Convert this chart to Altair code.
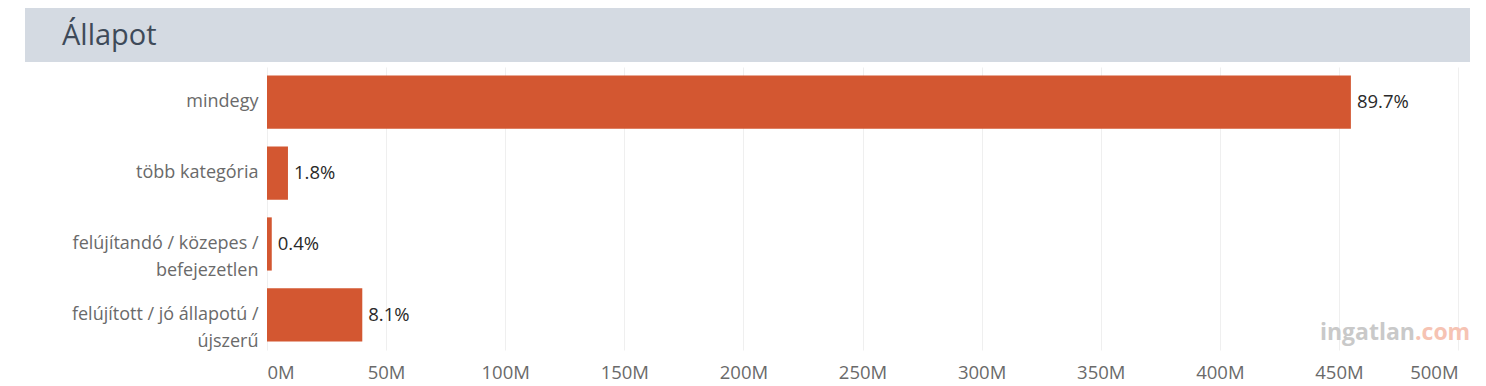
import altair as alt
import pandas as pd

categories = ["mindegy", "több kategória", "felújítandó / közepes /|befejezetlen", "felújított / jó állapotú /|újszerű"]
values_m = [455.0, 8.8, 2.0, 40.0]
pct_labels = ["89.7%", "1.8%", "0.4%", "8.1%"]
tick_values = [0, 50, 100, 150, 200, 250, 300, 350, 400, 450, 500]

df = pd.DataFrame({"cat": categories, "val": values_m, "pct": pct_labels})

W, H = 1203, 283
FONT = "Open Sans"

base = alt.Chart(df)

y_enc = alt.Y("cat:N", sort=categories, title=None,
              scale=alt.Scale(paddingInner=0.25, paddingOuter=0.12),
              axis=alt.Axis(labelExpr="split(datum.label, '|')", labelFontSize=18,
                            labelColor="#6a6a6a", labelFont=FONT, ticks=False, domain=False,
                            labelPadding=9, labelLineHeight=27, labelLimit=300))

x_enc = alt.X("val:Q", title=None,
              scale=alt.Scale(domain=[0, 505], nice=False, zero=True),
              axis=alt.Axis(values=tick_values, labelExpr="datum.value + 'M'",
                            labelFontSize=18.5, labelColor="#6a6a6a", labelFont=FONT,
                            ticks=False, domain=False, grid=True, gridColor="#efefef",
                            labelPadding=13, labelFlush=15))

bars = base.mark_bar(color="#d35731").encode(x=x_enc, y=y_enc)

texts = base.mark_text(align="left", baseline="middle", dx=6, fontSize=18.5,
                       color="#2a2a2a", font=FONT).encode(
    x="val:Q", y=alt.Y("cat:N", sort=categories), text="pct:N")

header_df = pd.DataFrame({"t": ["Állapot"]})
header_rect = alt.Chart(header_df).mark_rect(color="#d4dae2").encode(
    x=alt.value(-242), x2=alt.value(W), y=alt.value(-59), y2=alt.value(-5))
header_text = alt.Chart(header_df).mark_text(align="left", baseline="middle", fontSize=29,
                                             color="#3e4a59", font=FONT).encode(
    x=alt.value(-205), y=alt.value(-31), text="t:N")

wm1_df = pd.DataFrame({"t": ["ingatlan"]})
wm2_df = pd.DataFrame({"t": [".com"]})
wm1 = alt.Chart(wm1_df).mark_text(align="right", baseline="alphabetic", fontSize=23,
                                  fontWeight="bold", color="#c9c9c9", font=FONT).encode(
    x=alt.value(1148), y=alt.value(273), text="t:N")
wm2 = alt.Chart(wm2_df).mark_text(align="left", baseline="alphabetic", fontSize=23,
                                  fontWeight="bold", color="#f6c3b3", font=FONT).encode(
    x=alt.value(1148), y=alt.value(273), text="t:N")

chart = alt.layer(header_rect, header_text, bars, texts, wm1, wm2).properties(
    width=W, height=H,
    autosize=alt.AutoSizeParams(type="none"),
    padding={"left": 259, "top": 59, "right": 8, "bottom": 36},
).configure_view(stroke=None)

chart.save("out.html", embed_options={"renderer": "svg", "actions": False})
